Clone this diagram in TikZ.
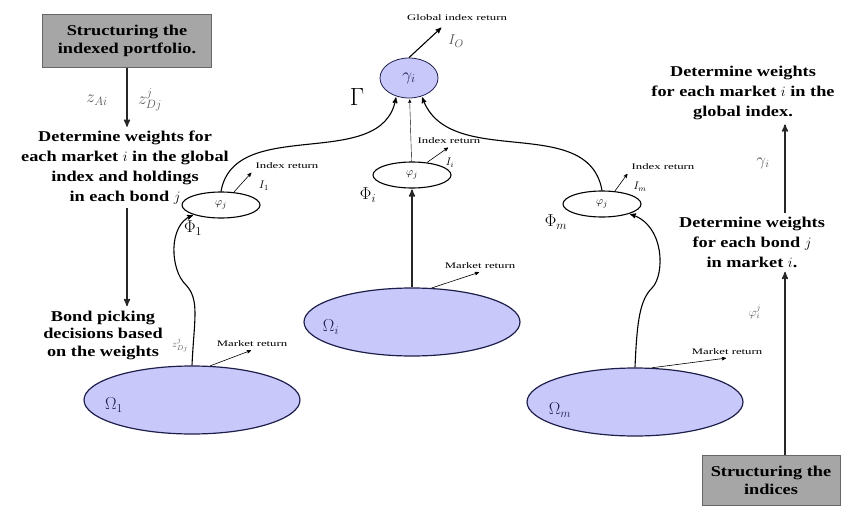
\documentclass[tikz,border=0pt]{standalone}
\usepackage{fontspec}
\setmainfont{Liberation Serif}[FakeStretch=1.22]
\newfontfamily\widefont{Liberation Serif}[FakeStretch=1.5]
\usepackage{tikz}
\usetikzlibrary{arrows,shapes.geometric}

\definecolor{lavender}{RGB}{200,200,250}
\definecolor{navy}{RGB}{30,30,75}
\definecolor{boxgray}{RGB}{166,166,166}
\definecolor{lblgray}{RGB}{85,85,85}

\begin{document}
\begin{tikzpicture}[->,>=stealth',shorten >=1pt,x=1pt,y=1pt,semithick]

  \tikzstyle{market}=[ellipse,draw=navy,very thick,fill=lavender,minimum width=216pt,minimum height=68pt]
  \tikzstyle{index}=[ellipse,draw,line width=1.1pt,minimum width=78pt,minimum height=26pt,inner sep=0pt,font=\fontsize{11}{11}\selectfont]
  \tikzstyle{struct}=[rectangle,draw=black!60,fill=boxgray,align=center,font=\bfseries\fontsize{15}{18}\selectfont]
  \tikzstyle{decision}=[align=center,font=\bfseries\fontsize{15}{20}\selectfont]
  \tikzstyle{tiny}=[font=\widefont\fontsize{8.5}{9}\selectfont]
  \tikzstyle{weight}=[text=lblgray,font=\fontsize{17}{17}\selectfont]
  \tikzstyle{sym}=[font=\fontsize{18}{18}\selectfont]
  \tikzstyle{flow}=[line width=1.5pt,black!85]
  \tikzstyle{feed}=[line width=1.1pt]

  \useasboundingbox (0,0) rectangle (849,-506);

  % portfolio side
  \node[struct,minimum width=169pt,minimum height=53pt] (SP) at (127,-41) {Structuring the\\indexed portfolio.};
  \node[decision] (DW) at (125,-168) {Determine weights for\\each market \textmd{$i$} in the global\\index and holdings\\in each bond \textmd{$j$}};
  \node[decision,font=\bfseries\fontsize{15}{17.5}\selectfont] (BP) at (103,-335) {Bond picking\\decisions based\\on the weights};
  \node[weight] (zA) at (97,-100) {$z_{Ai}$};
  \node[weight] (zD) at (150,-100) {$z^j_{Dj}$};
  \node[text=lblgray,font=\fontsize{10}{10}\selectfont] (zB) at (180,-345) {$z^j_{Dj}$};

  % markets and indices
  \node[market] (O1) at (192,-400) {};
  \node[market] (Oi) at (412,-322) {};
  \node[market] (Om) at (635,-402) {};
  \node[sym,text=navy] (O1l) at (114,-405) {$\Omega_1$};
  \node[sym,text=navy] (Oil) at (331,-327) {$\Omega_i$};
  \node[sym,text=navy] (Oml) at (560,-410) {$\Omega_m$};

  \node[index] (P1) at (221,-205) {$\varphi_j$};
  \node[index] (Pi) at (412,-175) {$\varphi_j$};
  \node[index] (Pm) at (602,-204) {$\varphi_j$};
  \node[sym] (P1l) at (193,-228) {$\Phi_1$};
  \node[sym] (Pil) at (368,-195) {$\Phi_i$};
  \node[sym] (Pml) at (556,-222) {$\Phi_m$};

  \node[ellipse,draw=navy,thick,fill=lavender,minimum width=58pt,minimum height=40pt,sym,text=navy] (G) at (409,-78) {$\gamma_i$};
  \node[font=\fontsize{26}{26}\selectfont] (Gl) at (357,-97) {$\Gamma$};

  % return labels
  \node[tiny] (GR) at (457,-18) {Global index return};
  \coordinate (GRt) at (442,-27);
  \node[weight,font=\fontsize{15}{15}\selectfont] (IO) at (456,-41) {$I_O$};
  \node[tiny,anchor=south west] (R1) at (252,-172) {Index return};
  \node[tiny,anchor=south] (Ri) at (449,-147) {Index return};
  \node[tiny,anchor=south west] (Rm) at (628,-173) {Index return};
  \node[font=\fontsize{11}{11}\selectfont] (I1) at (264,-186) {$I_1$};
  \node[font=\fontsize{11}{11}\selectfont] (Ii) at (450,-163) {$I_i$};
  \node[font=\fontsize{11}{11}\selectfont] (Im) at (640,-187) {$I_m$};
  \node[tiny,anchor=south] (M1) at (252,-350) {Market return};
  \node[tiny,anchor=south] (Mi) at (480,-272) {Market return};
  \node[tiny,anchor=south] (Mm) at (727,-358) {Market return};

  % index side
  \node[decision] (DG) at (743,-93) {Determine weights\\for each market \textmd{$i$} in the\\global index.};
  \node[decision] (DB) at (752,-242) {Determine weights\\for each bond \textmd{$j$}\\in market \textmd{$i$}.};
  \node[struct,minimum width=138pt,minimum height=50pt] (SI) at (771,-480) {Structuring the\\indices};
  \node[weight,font=\fontsize{16}{16}\selectfont] (gl) at (763,-163) {$\gamma_i$};
  \node[text=lblgray,font=\fontsize{12}{12}\selectfont] (pl) at (755,-312) {$\varphi^j_i$};
  \path (SI.north) ++(14,0) coordinate (SIa);

  \path
  (SP) edge [flow] (SP |- DW.north)
  (DW.south -| SP) edge [flow] (SP |- BP.north)
  (SIa) edge [flow] (SIa |- DB.south)
  (SIa |- DB.north) edge [flow] (SIa |- DG.south)
  (Oi) edge [flow] (Pi)
  (Pi) edge [thin] (G)
  (P1.north) edge [feed,out=80,in=-100] (G.235)
  (Pm.north) edge [feed,out=100,in=-70] (G.-55)
  (G.north) edge [feed] (GRt)
  (P1.45) edge (R1.south west)
  (Pi.40) edge (Ri.south)
  (Pm.45) edge (Rm.south west)
  (O1.62) edge (M1.south)
  (Oi.60) edge (Mi.south)
  (Om.64) edge (Mm.south)
  ;

  \draw[feed] (O1.north) .. controls (194,-320) and (200,-300) .. (186,-285)
    .. controls (170,-270) and (168,-225) .. (P1.200);
  \draw[feed] (Om.north) .. controls (637,-320) and (640,-300) .. (652,-288)
    .. controls (665,-275) and (665,-225) .. (Pm.-20);
\end{tikzpicture}
\end{document}
